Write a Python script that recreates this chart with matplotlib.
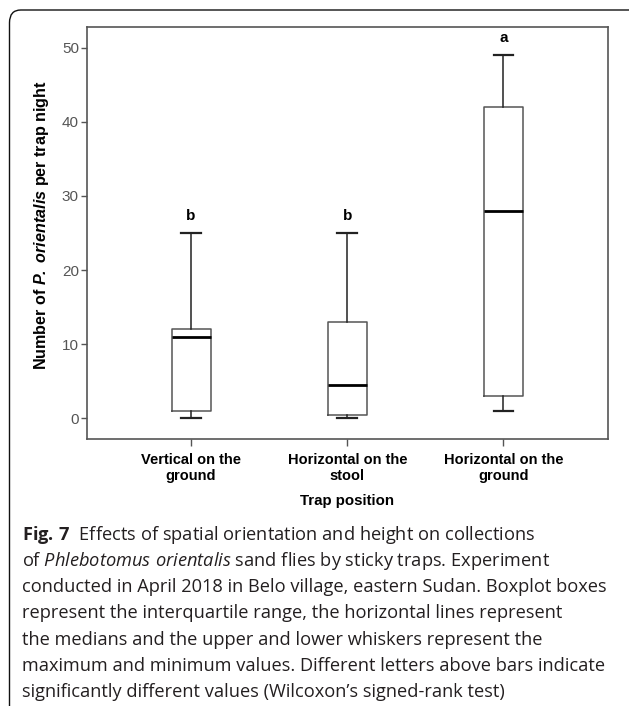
import matplotlib
matplotlib.use("Agg")
import matplotlib.pyplot as plt
from matplotlib.patches import FancyBboxPatch

# =====================
# Data
# =====================
categories = ["Vertical on the\nground", "Horizontal on the\nstool", "Horizontal on the\nground"]
whisker_low = [0, 0, 1]
q1 = [1, 0.5, 3]
median = [11, 4.5, 28]
q3 = [12, 13, 42]
whisker_high = [25, 25, 49]
letters = ["b", "b", "a"]

caption_lines = [
    r"$\mathbf{Fig.\,7}$  Effects of spatial orientation and height on collections",
    r"of $\mathit{Phlebotomus\ orientalis}$ sand flies by sticky traps. Experiment",
    "conducted in April 2018 in Belo village, eastern Sudan. Boxplot boxes",
    "represent the interquartile range, the horizontal lines represent",
    "the medians and the upper and lower whiskers represent the",
    "maximum and minimum values. Different letters above bars indicate",
    "significantly different values (Wilcoxon\u2019s signed-rank test)",
]

# =====================
# Fonts
# =====================
plt.rcParams["font.family"] = ["Liberation Sans", "DejaVu Sans"]
plt.rcParams["mathtext.fontset"] = "custom"
plt.rcParams["mathtext.rm"] = "Open Sans"
plt.rcParams["mathtext.it"] = "Open Sans:italic"
plt.rcParams["mathtext.bf"] = "Open Sans:bold"
plt.rcParams["mathtext.bfit"] = "Liberation Sans:italic:bold"

W, H = 629, 706
fig = plt.figure(figsize=(W / 100, H / 100), dpi=100)

# rounded frame around figure + caption
frame = FancyBboxPatch((9.5 / W, -20 / H), 640 / W, (H - 10 + 20) / H,
                       boxstyle="round,pad=0,rounding_size=0.018",
                       transform=fig.transFigure, fill=False,
                       edgecolor="#111111", linewidth=1.0)
fig.patches.append(frame)

ax = fig.add_axes([86.5 / W, 1 - 439 / H, (608 - 86.5) / W, (439 - 27) / H])

stats = []
for i in range(len(categories)):
    stats.append({
        "whislo": whisker_low[i], "q1": q1[i], "med": median[i],
        "q3": q3[i], "whishi": whisker_high[i], "fliers": [],
    })

positions = list(range(1, len(categories) + 1))
ax.bxp(stats, positions=positions, widths=0.25, capwidths=0.125,
       boxprops=dict(color="#555555", linewidth=1.1),
       medianprops=dict(color="black", linewidth=2.0, solid_capstyle="butt"),
       whiskerprops=dict(color="#222222", linewidth=1.1),
       capprops=dict(color="#222222", linewidth=1.6),
       showfliers=False)

for pos, top, lt in zip(positions, whisker_high, letters):
    ax.text(pos, top + 2.3, lt, ha="center", va="center",
            fontsize=11, fontweight="bold", color="black")

ax.set_xlim(0.33, 3.67)
ax.set_ylim(-2.8, 52.8)
ax.set_yticks([0, 10, 20, 30, 40, 50])
ax.set_xticks(positions)
ax.set_xticklabels(categories, fontsize=10.5, fontweight="bold", linespacing=1.2)

ax.tick_params(axis="y", direction="out", length=4, width=1, color="#555555",
               labelsize=11, labelcolor="#555555", pad=1.5)
ax.tick_params(axis="x", direction="out", length=5, width=1, color="#555555", pad=5)

for s in ax.spines.values():
    s.set_color("#555555")
    s.set_linewidth(1.2)

ax.set_ylabel(r"Number of $\mathbfit{P.\ orientalis}$ per trap night",
              fontsize=11.6, fontweight="bold", va="center")
ax.yaxis.set_label_coords((41 - 86.5) / 521.5, 0.52)
ax.set_xlabel("Trap position", fontsize=10.8, fontweight="bold", va="center")
ax.xaxis.set_label_coords(0.5, (439 - 501) / 412)

# caption
for i, line in enumerate(caption_lines):
    fig.text(22 / W, 1 - (539.5 + 26.3 * i) / H, line, ha="left", va="baseline",
             fontsize=13.15, family=["Open Sans", "DejaVu Sans"], color="#231f20")

fig.savefig("out.png", dpi=100)
